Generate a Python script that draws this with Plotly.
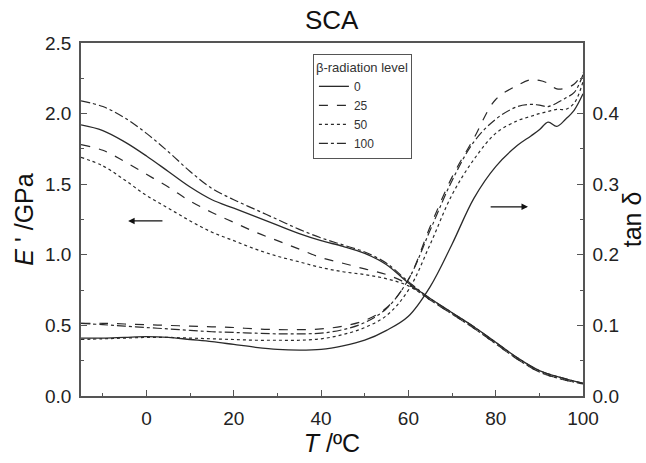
import plotly.graph_objects as go

# ---- data ----
levels = ["0", "25", "50", "100"]

T_E = [-15, -10, -5, 0, 5, 10, 15, 20, 25, 30, 35, 40, 45, 50, 55, 60,
       65, 70, 75, 80, 85, 90, 95, 100]
E_0 = [1.92, 1.88, 1.80, 1.70, 1.59, 1.48, 1.39, 1.33, 1.27, 1.21, 1.15, 1.10,
       1.06, 1.01, 0.93, 0.80, 0.69, 0.59, 0.49, 0.38, 0.27, 0.18, 0.13, 0.09]
E_25 = [1.78, 1.74, 1.66, 1.57, 1.48, 1.38, 1.30, 1.23, 1.16, 1.10, 1.04, 0.98,
        0.94, 0.90, 0.86, 0.79, 0.68, 0.58, 0.48, 0.37, 0.26, 0.17, 0.12, 0.085]
E_50 = [1.69, 1.63, 1.53, 1.42, 1.33, 1.24, 1.16, 1.10, 1.04, 0.99, 0.95, 0.91,
        0.88, 0.86, 0.83, 0.78, 0.68, 0.58, 0.48, 0.37, 0.26, 0.17, 0.12, 0.085]
E_100 = [2.09, 2.05, 1.97, 1.86, 1.73, 1.59, 1.47, 1.39, 1.32, 1.25, 1.18, 1.12,
         1.07, 1.02, 0.94, 0.81, 0.69, 0.59, 0.49, 0.38, 0.27, 0.18, 0.13, 0.09]

T_tan = [-15, -10, -5, 0, 5, 10, 15, 20, 25, 30, 35, 40, 45, 50, 55, 60,
         65, 70, 75, 80, 85, 88, 90, 92, 94, 96, 98, 100]
tan_0 = [0.082, 0.082, 0.083, 0.084, 0.083, 0.080, 0.077, 0.073, 0.069, 0.066,
         0.065, 0.066, 0.071, 0.079, 0.093, 0.113, 0.155, 0.215, 0.280, 0.325,
         0.355, 0.368, 0.377, 0.388, 0.382, 0.392, 0.405, 0.428]
tan_25 = [0.103, 0.103, 0.102, 0.101, 0.100, 0.099, 0.098, 0.097, 0.095, 0.094,
          0.094, 0.095, 0.099, 0.107, 0.125, 0.165, 0.240, 0.310, 0.365, 0.420,
          0.440, 0.448, 0.447, 0.443, 0.435, 0.436, 0.442, 0.458]
tan_50 = [0.080, 0.081, 0.082, 0.083, 0.083, 0.082, 0.081, 0.080, 0.079, 0.079,
          0.079, 0.081, 0.087, 0.097, 0.114, 0.150, 0.215, 0.285, 0.335, 0.372,
          0.390, 0.396, 0.400, 0.403, 0.406, 0.406, 0.415, 0.445]
tan_100 = [0.103, 0.101, 0.099, 0.097, 0.095, 0.093, 0.091, 0.090, 0.089, 0.088,
           0.088, 0.089, 0.094, 0.104, 0.124, 0.165, 0.235, 0.305, 0.360, 0.392,
           0.410, 0.413, 0.412, 0.410, 0.415, 0.422, 0.430, 0.455]

E_series = [E_0, E_25, E_50, E_100]
tan_series = [tan_0, tan_25, tan_50, tan_100]
dashes = ["solid", "dash", "dot", "dashdot"]
widths = [1.3, 1.2, 1.2, 1.2]
line_color = "#2a2a2a"
FONT = "Liberation Sans, Arial, sans-serif"

fig = go.Figure()
for lvl, E, d, w in zip(levels, E_series, dashes, widths):
    fig.add_trace(go.Scatter(x=T_E, y=E, mode="lines", name=lvl,
                             line=dict(color=line_color, dash=d, width=w, shape="spline"),
                             yaxis="y"))
for lvl, tn, d, w in zip(levels, tan_series, dashes, widths):
    fig.add_trace(go.Scatter(x=T_tan, y=tn, mode="lines", name=lvl, showlegend=False,
                             line=dict(color=line_color, dash=d, width=w, shape="spline"),
                             yaxis="y2"))

# arrows indicating the axis each curve group belongs to
fig.add_annotation(x=-4.2, y=1.24, ax=4.0, ay=1.24, xref="x", yref="y",
                   axref="x", ayref="y", showarrow=True, arrowhead=2,
                   arrowsize=1, arrowwidth=1.3, arrowcolor="#111", text="")
fig.add_annotation(x=87.4, y=1.34, ax=78.5, ay=1.34, xref="x", yref="y",
                   axref="x", ayref="y", showarrow=True, arrowhead=2,
                   arrowsize=1, arrowwidth=1.3, arrowcolor="#111", text="")

# chart title
fig.add_annotation(text="SCA", x=0.5, y=1.0, xref="paper", yref="paper",
                   xanchor="center", yanchor="bottom", yshift=6, showarrow=False,
                   font=dict(size=26, family=FONT, color="#111"))

axis_common = dict(showgrid=False, zeroline=False, showline=True, linecolor="#555",
                   linewidth=1.5, ticks="inside", tickcolor="#555", ticklen=6,
                   tickwidth=1.2, automargin=False, ticklabelstandoff=4,
                   tickfont=dict(size=19, color="#222", family=FONT))

fig.update_layout(
    width=646, height=463,
    margin=dict(l=81, r=63, t=43, b=67),
    paper_bgcolor="white", plot_bgcolor="white",
    font=dict(family=FONT, color="#222"),
    xaxis=dict(range=[-15, 100], tickvals=[0, 20, 40, 60, 80, 100], mirror=True,
               minor=dict(dtick=10, tick0=0, ticks="inside", ticklen=3, tickcolor="#555"),
               title=dict(text="<i>T</i> /ºC", font=dict(size=25, family=FONT, color="#111"),
                          standoff=6),
               **axis_common),
    yaxis=dict(range=[0, 2.5], tickvals=[0, 0.5, 1.0, 1.5, 2.0, 2.5], tickformat=".1f",
               minor=dict(dtick=0.25, tick0=0, ticks="inside", ticklen=3, tickcolor="#555"),
               title=dict(text="<i>E</i> ' /GPa", font=dict(size=25, family=FONT, color="#111"),
                          standoff=4),
               **axis_common),
    yaxis2=dict(range=[0, 0.5], tickvals=[0, 0.1, 0.2, 0.3, 0.4], tickformat=".1f",
                overlaying="y", side="right", anchor="x",
                minor=dict(dtick=0.05, tick0=0, ticks="inside", ticklen=3, tickcolor="#555"),
                title=dict(text="tan δ", font=dict(size=25, family=FONT, color="#111"),
                           standoff=1),
                **axis_common),
    legend=dict(x=0.462, y=0.969, xanchor="left", yanchor="top",
                bgcolor="white", bordercolor="#555", borderwidth=1,
                title=dict(text="β-radiation level", font=dict(size=13, family=FONT, color="#333")),
                font=dict(size=12, family=FONT, color="#333"),
                tracegroupgap=0, itemwidth=30),
    showlegend=True,
)

# remove the browser's default page margin so the figure fills the window exactly
fig.write_html("out.html", config={"displayModeBar": False},
               post_script="document.body.style.margin='0';")
